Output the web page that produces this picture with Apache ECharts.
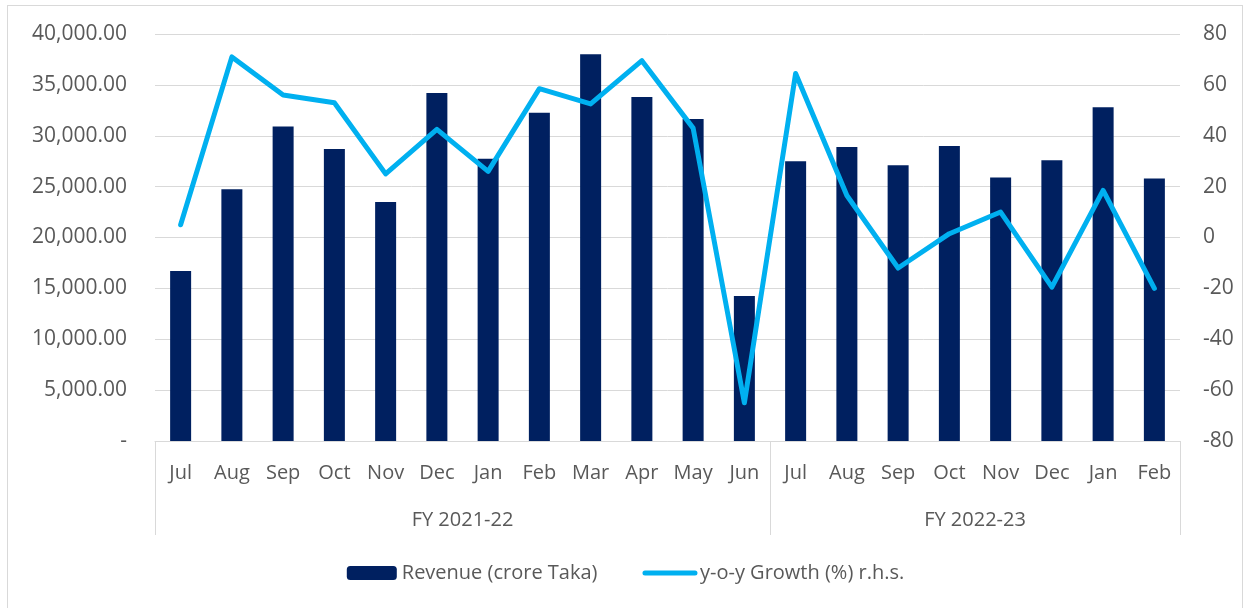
<!DOCTYPE html>
<html>
<head>
<meta charset="utf-8">
<script src="https://cdn.jsdelivr.net/npm/echarts@6/dist/echarts.min.js"></script>
<style>
  html, body { margin: 0; padding: 0; background: #fff; }
  #frame {
    position: absolute; left: 7px; top: 5px; width: 1236px; height: 610px;
    border: 1px solid #d9d9d9; box-sizing: border-box;
  }
  #chart { position: absolute; left: 0; top: 0; width: 1251px; height: 608px; }
</style>
</head>
<body>
<div id="frame"></div>
<div id="chart"></div>
<script>
// months on the axis
const months = ['Jul', 'Aug', 'Sep', 'Oct', 'Nov', 'Dec', 'Jan', 'Feb', 'Mar', 'Apr', 'May', 'Jun',
                'Jul', 'Aug', 'Sep', 'Oct', 'Nov', 'Dec', 'Jan', 'Feb'];
// fiscal year groups under the months
const groupNames = ['FY 2021-22', 'FY 2022-23'];
const groupSizes = [12, 8];
// revenue, crore Taka
const revenue = [16700, 24750, 30900, 28700, 23500, 34200, 27750, 32250, 38000, 33800, 31650, 14250,
                 27500, 28900, 27100, 29000, 25900, 27600, 32800, 25800];
// y-o-y growth, %
const growth = [5, 71, 56, 53, 25, 42.5, 26, 58.5, 52.5, 69.5, 43, -65,
                64.5, 16.5, -12, 1.5, 10, -19.5, 18.5, -20];

const font = '"Open Sans", sans-serif';
const txt = '#595959';
const gridColor = '#d9d9d9';

// boundaries and centres of the year groups, in category units
const bounds = [0];
const centres = [];
groupSizes.forEach((n, i) => {
  centres.push(bounds[i] + n / 2);
  bounds.push(bounds[i] + n);
});

const chart = echarts.init(document.getElementById('chart'));

chart.setOption({
  animation: false,
  textStyle: { fontFamily: font },
  grid: { left: 155, right: 71, top: 34, bottom: 167 },
  legend: {
    bottom: 20,
    left: 'center',
    itemWidth: 50,
    itemHeight: 14,
    itemGap: 45,
    textStyle: { fontSize: 20, color: txt, fontFamily: font },
    data: [
      { name: 'Revenue (crore Taka)' },
      {
        name: 'y-o-y Growth (%) r.h.s.',
        itemStyle: { color: 'rgba(0,0,0,0)', borderWidth: 0 },
        lineStyle: { width: 5, color: '#00b0f0' }
      }
    ]
  },
  xAxis: [{
    type: 'category',
    data: months,
    axisLine: { lineStyle: { color: gridColor, width: 1 } },
    // separators between the fiscal years
    axisTick: {
      show: true,
      alignWithLabel: false,
      length: 94,
      interval: i => bounds.indexOf(i) >= 0,
      lineStyle: { color: gridColor, width: 1 }
    },
    axisLabel: { color: txt, fontSize: 20, margin: 22, interval: 0 }
  }, {
    type: 'value',
    min: 0,
    max: bounds[bounds.length - 1],
    position: 'bottom',
    axisLine: { show: false },
    splitLine: { show: false },
    axisTick: { show: false },
    axisLabel: {
      margin: 69,
      color: txt,
      fontSize: 20,
      customValues: centres,
      formatter: v => groupNames[centres.indexOf(v)] || ''
    }
  }],
  yAxis: [{
    type: 'value',
    min: 0,
    max: 40000,
    interval: 5000,
    axisLine: { show: false },
    axisTick: { show: false },
    splitLine: { lineStyle: { color: gridColor, width: 1 } },
    axisLabel: {
      color: txt,
      fontSize: 21,
      margin: 28,
      formatter: v => v === 0 ? '-' : v.toLocaleString('en-US', { minimumFractionDigits: 2, maximumFractionDigits: 2 })
    }
  }, {
    type: 'value',
    min: -80,
    max: 80,
    interval: 20,
    axisLine: { show: false },
    axisTick: { show: false },
    splitLine: { show: false },
    axisLabel: { color: txt, fontSize: 21, margin: 23 }
  }],
  series: [{
    name: 'Revenue (crore Taka)',
    type: 'bar',
    data: revenue,
    barWidth: 21,
    itemStyle: { color: '#002060' }
  }, {
    name: 'y-o-y Growth (%) r.h.s.',
    type: 'line',
    yAxisIndex: 1,
    data: growth,
    symbol: 'none',
    lineStyle: { color: '#00b0f0', width: 5, join: 'round', cap: 'round' },
    itemStyle: { color: '#00b0f0' }
  }]
});
</script>
</body>
</html>
